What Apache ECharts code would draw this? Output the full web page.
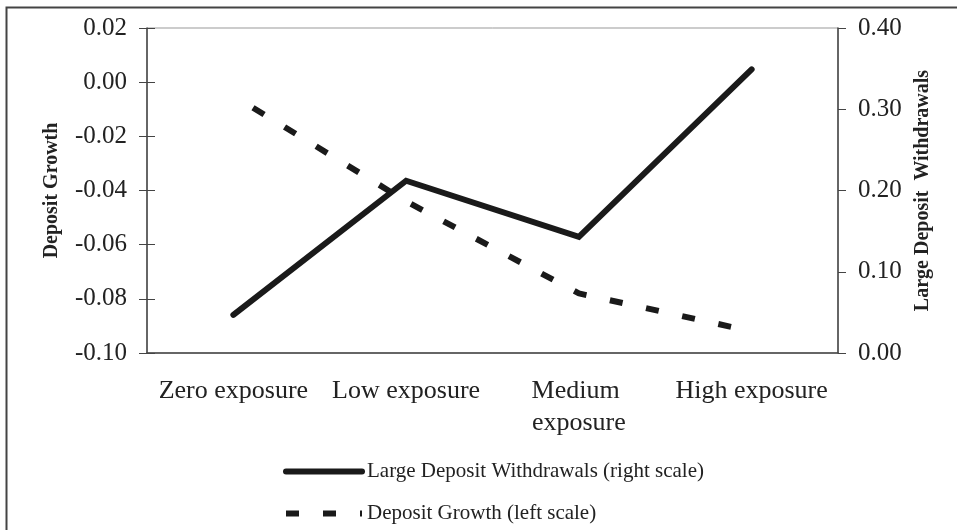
<!DOCTYPE html>
<html>
<head>
<meta charset="utf-8">
<script src="https://cdn.jsdelivr.net/npm/echarts@6/dist/echarts.min.js"></script>
<style>
  html, body { margin: 0; padding: 0; background: #fff; }
  #main { width: 957px; height: 530px; }
</style>
</head>
<body>
<div id="main"></div>
<script>
var categories = ['Zero exposure', 'Low exposure', 'Medium exposure', 'High exposure'],
    withdrawals = [0.047, 0.212, 0.143, 0.349],
    depositGrowth = [-0.005, -0.044, -0.078, -0.092],
    withdrawName = 'Large Deposit Withdrawals (right scale)',
    growthName = 'Deposit Growth (left scale)',
    serif = 'Liberation Serif',
    ink = '#222',
    myChart = echarts.init(document.getElementById('main'));

var solidLine = { color: '#1a1a1a', width: 6, cap: 'round', join: 'miter' },
    dashLine = { color: '#1a1a1a', width: 6, type: [13, 24], dashOffset: 14, cap: 'butt' };

var option = {
    animation: false,
    backgroundColor: '#fff',
    graphic: [{
        type: 'rect',
        shape: { x: 6.5, y: 7.5, width: 1200, height: 800 },
        style: { fill: 'none', stroke: '#444', lineWidth: 2 },
        silent: true
    }],
    grid: {
        left: 147,
        right: 119,
        top: 28,
        bottom: 177,
        show: true,
        borderColor: '#999',
        borderWidth: 1
    },
    legend: {
        orient: 'vertical',
        left: 283,
        top: 461,
        padding: 0,
        itemWidth: 76,
        itemHeight: 20,
        itemGap: 21,
        itemStyle: { opacity: 0 },
        textStyle: { fontFamily: serif, fontSize: 21, color: ink },
        data: [
            { name: withdrawName, lineStyle: solidLine },
            { name: growthName, lineStyle: { color: '#1a1a1a', width: 6, type: [13, 24], dashOffset: 0, cap: 'butt' } }
        ]
    },
    xAxis: {
        type: 'category',
        data: categories,
        boundaryGap: true,
        axisLine: { onZero: false, lineStyle: { color: '#444', width: 1.5 } },
        axisTick: { length: 7, lineStyle: { color: '#444' } },
        axisLabel: {
            interval: 0,
            margin: 22,
            width: 168,
            overflow: 'break',
            lineHeight: 32,
            fontFamily: serif,
            fontSize: 26,
            color: ink
        },
        splitLine: { show: false }
    },
    yAxis: [{
        type: 'value',
        position: 'left',
        min: -0.10,
        max: 0.02,
        interval: 0.02,
        name: 'Deposit Growth',
        nameLocation: 'middle',
        nameGap: 85,
        nameTextStyle: { fontFamily: serif, fontSize: 20, fontWeight: 'bold', color: ink },
        axisLine: { show: true, lineStyle: { color: '#444', width: 1.5 } },
        axisTick: { show: true, length: 8, lineStyle: { color: '#444' } },
        axisLabel: {
            margin: 20,
            fontFamily: serif,
            fontSize: 25,
            color: ink,
            formatter: function (v) { return v.toFixed(2); }
        },
        splitLine: { show: false }
    }, {
        type: 'value',
        position: 'right',
        min: 0,
        max: 0.40,
        interval: 0.10,
        name: 'Large Deposit  Withdrawals',
        nameLocation: 'middle',
        nameGap: 75,
        nameTextStyle: { fontFamily: serif, fontSize: 20, fontWeight: 'bold', color: ink },
        axisLine: { show: true, lineStyle: { color: '#444', width: 1.5 } },
        axisTick: { show: true, length: 8, lineStyle: { color: '#444' } },
        axisLabel: {
            margin: 20,
            fontFamily: serif,
            fontSize: 25,
            color: ink,
            formatter: function (v) { return v.toFixed(2); }
        },
        splitLine: { show: false }
    }, {
        // inner half of the cross ticks on the left axis
        type: 'value',
        position: 'left',
        min: -0.10,
        max: 0.02,
        interval: 0.02,
        axisLine: { show: false },
        axisTick: { show: true, inside: true, length: 8, lineStyle: { color: '#444' } },
        axisLabel: { show: false },
        splitLine: { show: false }
    }],
    series: [{
        name: withdrawName,
        type: 'line',
        yAxisIndex: 1,
        data: withdrawals,
        symbol: 'none',
        z: 3,
        lineStyle: solidLine,
        itemStyle: { color: '#1a1a1a' }
    }, {
        name: growthName,
        type: 'line',
        yAxisIndex: 0,
        data: depositGrowth,
        symbol: 'none',
        z: 2,
        lineStyle: dashLine,
        itemStyle: { color: '#1a1a1a' }
    }]
};

myChart.setOption(option);
</script>
</body>
</html>
